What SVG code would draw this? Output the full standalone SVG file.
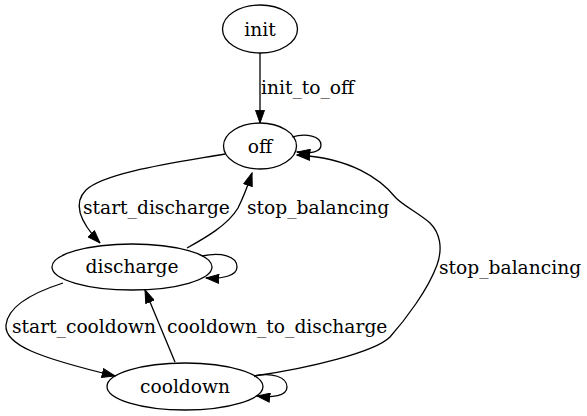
<svg xmlns="http://www.w3.org/2000/svg" width="587" height="416" viewBox="0 0 587 416">
<style>
  .node ellipse { fill: none; stroke: #000; stroke-width: 1.3; }
  text { font-family: "DejaVu Serif", "Liberation Serif", serif; font-size: 18.67px; fill: #000; }
  .node text { text-anchor: middle; }
  .edge { fill: none; stroke: #000; stroke-width: 1.3; marker-end: url(#arrow); }
</style>
<defs>
  <marker id="arrow" markerUnits="userSpaceOnUse" markerWidth="14" markerHeight="10" viewBox="0 0 14 10" refX="13.3" refY="5" orient="auto">
    <path d="M0.5,0.5 L13.3,5 L0.5,9.5 z" fill="#000" stroke="#000" stroke-width="1"/>
  </marker>
</defs>
<rect width="587" height="416" fill="#fff"/>
<g id="connectors">
  <path class="edge" d="M260,53 L260,123"/>
  <text x="261" y="94">init_to_off</text>
  <path class="edge" d="M292,137 C306,133 321,136 321,145 C321,152 311,154 297,152"/>
  <path class="edge" d="M225,154 C180,162 105,172 86,190 C74,202 78,220 100,243"/>
  <text x="83" y="214">start_discharge</text>
  <path class="edge" d="M187,248 C205,238 228,225 238,208 C243,198 248,185 252,173"/>
  <text x="247" y="214">stop_balancing</text>
  <path class="edge" d="M202,256 C221,252 237,256 237,267 C237,276 222,279 206,278"/>
  <path class="edge" d="M63,283 C35,292 8,305 6,325 C4,345 40,358 115,376"/>
  <text x="12" y="333">start_cooldown</text>
  <path class="edge" d="M175,362 L145,290"/>
  <text x="167" y="333">cooldown_to_discharge</text>
  <path class="edge" d="M254,376 C310,368 375,352 390,337 C405,320 428,290 437,265 C443,248 440,233 430,223 C420,214 404,206 396,198 C380,178 350,158 297,155"/>
  <text x="439" y="274">stop_balancing</text>
  <path class="edge" d="M254,376 C272,372 287,377 287,387 C287,396 272,398 257,396"/>
</g>
<g id="node-init" class="node">
  <ellipse cx="260" cy="29" rx="37.5" ry="24"/>
  <text x="260" y="36">init</text>
</g>
<g id="node-off" class="node">
  <ellipse cx="260" cy="146" rx="36.5" ry="23"/>
  <text x="260" y="153">off</text>
</g>
<g id="node-discharge" class="node">
  <ellipse cx="132" cy="267" rx="80" ry="23"/>
  <text x="132" y="273">discharge</text>
</g>
<g id="node-cooldown" class="node">
  <ellipse cx="185" cy="386.5" rx="78" ry="23.5"/>
  <text x="185" y="393">cooldown</text>
</g>
</svg>
